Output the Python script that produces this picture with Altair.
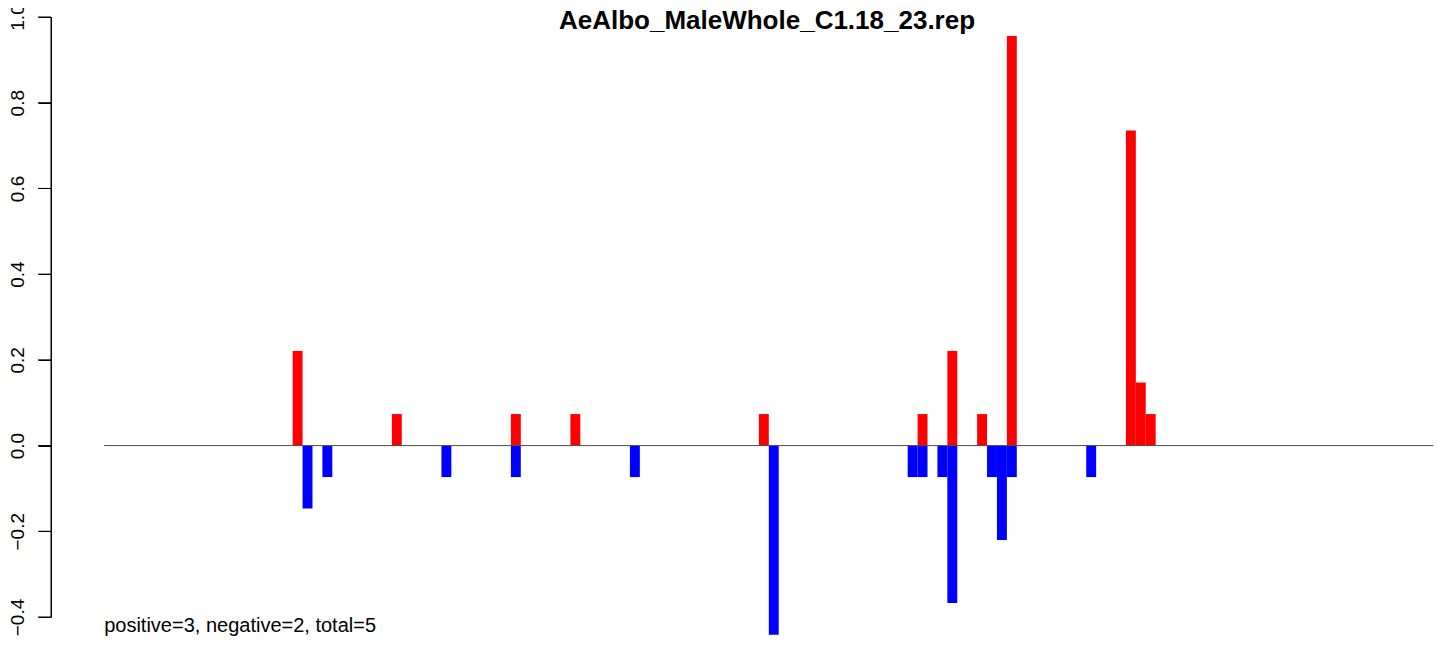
import altair as alt
import pandas as pd

# ---- data ----
n_bins = 134
pos_bins = [19, 29, 41, 47, 66, 82, 85, 88, 91, 103, 104, 105]
pos_vals = [0.2206, 0.0735, 0.0735, 0.0735, 0.0735, 0.0735, 0.2206, 0.0735, 0.9559, 0.7353, 0.1471, 0.0735]
neg_bins = [20, 22, 34, 41, 53, 67, 81, 82, 84, 85, 89, 90, 91, 99]
neg_vals = [-0.1471, -0.0735, -0.0735, -0.0735, -0.0735, -0.4412, -0.0735, -0.0735,
            -0.0735, -0.3676, -0.0735, -0.2206, -0.0735, -0.0735]
y_ticks = [-0.4, -0.2, 0.0, 0.2, 0.4, 0.6, 0.8, 1.0]
title_text = "AeAlbo_MaleWhole_C1.18_23.rep"
summary_text = "positive=3, negative=2, total=5"

rows = []
for b, v in zip(pos_bins, pos_vals):
    rows.append({"bin": b, "bin_end": b + 1, "value": v, "base": 0.0, "sign": "positive"})
for b, v in zip(neg_bins, neg_vals):
    rows.append({"bin": b, "bin_end": b + 1, "value": v, "base": 0.0, "sign": "negative"})
df = pd.DataFrame(rows)

FONT = "Liberation Sans"
xs = alt.Scale(domain=[-5.36, 134.26], nice=False, zero=False)
ys = alt.Scale(domain=[-0.4, 1.0], nice=False, zero=False)
yax = alt.Axis(values=y_ticks, format=".1f", title=None, grid=False,
               domain=True, ticks=True,
               domainColor="#000000", domainWidth=1, tickColor="#000000", tickWidth=1,
               tickSize=13, labelFontSize=19, labelFont=FONT, labelColor="#000000",
               labelAngle=270, labelAlign="center", labelBaseline="alphabetic",
               labelPadding=15, labelFlush=False, labelOverlap=False, labelBound=False)

bars = alt.Chart(df).mark_rect().encode(
    x=alt.X("bin:Q", scale=xs, axis=None),
    x2="bin_end:Q",
    y=alt.Y("value:Q", scale=ys, axis=yax),
    y2="base:Q",
    color=alt.Color("sign:N", scale=alt.Scale(domain=["positive", "negative"],
                                               range=["#FF0000", "#0000FF"]), legend=None),
)

line_df = pd.DataFrame({"x0": [0], "x1": [n_bins], "y0": [0.0]})
zero_line = alt.Chart(line_df).mark_rule(color="#4d4d4d", strokeWidth=1).encode(
    x=alt.X("x0:Q", scale=xs, axis=None),
    x2="x1:Q",
    y=alt.Y("y0:Q", scale=ys, axis=yax),
)

# explicit axis line and tick marks (R style: line spans first..last tick)
axis_df = pd.DataFrame({"lo": [y_ticks[0]], "hi": [y_ticks[-1]]})
axis_line = alt.Chart(axis_df).mark_rule(color="black", strokeWidth=1).encode(
    x=alt.value(0),
    y=alt.Y("lo:Q", scale=ys, axis=yax),
    y2="hi:Q",
)
tick_df = pd.DataFrame({"v": y_ticks})
tick_marks = alt.Chart(tick_df).mark_rule(color="black", strokeWidth=1).encode(
    x=alt.value(0),
    x2=alt.value(-13),
    y=alt.Y("v:Q", scale=ys, axis=yax),
)

summary = alt.Chart(pd.DataFrame({"t": [summary_text], "x": [0]})).mark_text(
    align="left", baseline="alphabetic", fontSize=20, font=FONT, color="black"
).encode(
    x=alt.X("x:Q", scale=xs, axis=None),
    y=alt.value(615),
    text="t:N",
)

title = alt.Chart(pd.DataFrame({"t": [title_text]})).mark_text(
    align="center", baseline="alphabetic", fontSize=26, fontWeight="bold", font=FONT, color="black"
).encode(
    x=alt.value(716),
    y=alt.value(12),
    text="t:N",
)

chart = alt.layer(bars, zero_line, axis_line, tick_marks, summary, title).properties(
    width=1385,
    height=600,
    autosize=alt.AutoSizeParams(type="none"),
    padding={"left": 43, "top": 9, "right": 0, "bottom": 20},
    background="white",
).configure(
    font=FONT,
    view=alt.ViewConfig(strokeWidth=0),
)

chart.save("out.html", embed_options={"renderer": "svg", "actions": False})
